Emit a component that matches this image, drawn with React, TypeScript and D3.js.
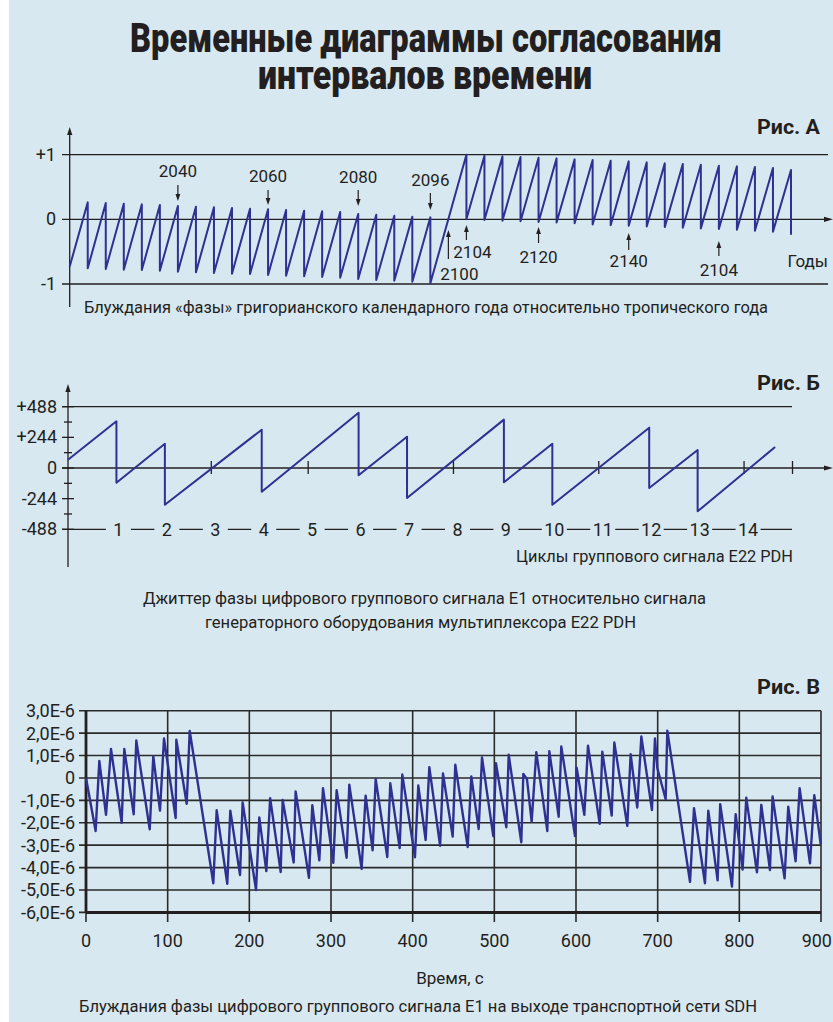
import React from "react";
import * as d3 from "d3";

const W = 833;
const H = 1022;
const BG = "#d8e8f1";
const INK = "#231f20";
const BLUE = "#2e3192";
const FONT = "Roboto, 'Liberation Sans', Arial, sans-serif";

// ---- Рис. А: phase of the Gregorian year vs tropical year ----
const aStartYear = 2016;
const aStartValue = -0.73;
const aLeapYears = [
  2020, 2024, 2028, 2032, 2036, 2040, 2044, 2048, 2052, 2056,
  2060, 2064, 2068, 2072, 2076, 2080, 2084, 2088, 2092, 2096,
  2104, 2108, 2112, 2116, 2120, 2124, 2128, 2132, 2136, 2140,
  2144, 2148, 2152, 2156, 2160, 2164, 2168, 2172, 2176,
];
const aPeaks = [
  0.263, 0.253, 0.242, 0.232, 0.222, 0.206, 0.196, 0.186, 0.175, 0.165,
  0.155, 0.144, 0.134, 0.124, 0.113, 0.082, 0.072, 0.057, 0.041, 0.031,
  1.0, 0.985, 0.974, 0.964, 0.954, 0.943, 0.928, 0.918, 0.907, 0.897,
  0.881, 0.866, 0.856, 0.845, 0.83, 0.82, 0.809, 0.794, 0.763,
];
const aTroughs = [
  -0.758, -0.768, -0.778, -0.784, -0.794, -0.809, -0.82, -0.83, -0.84, -0.845,
  -0.861, -0.871, -0.881, -0.892, -0.902, -0.923, -0.938, -0.948, -0.964, -0.99,
  0, -0.01, -0.02, -0.03, -0.04, -0.05, -0.06, -0.08, -0.09, -0.1,
  -0.11, -0.12, -0.13, -0.14, -0.15, -0.16, -0.175, -0.19, -0.24,
];
const aYTicks = [1, 0, -1];
const aYLabels = ["+1", "0", "-1"];
const aDownYears = [2040, 2060, 2080, 2096];
const aDownLabels = ["2040", "2060", "2080", "2096"];
const aUpYears = [2100, 2104, 2120, 2140, 2160];
const aUpLabels = ["2100", "2104", "2120", "2140", "2104"];

// ---- Рис. Б: jitter of E1 vs E22 ----
const bCycles = [0, 1, 1, 2, 2, 4, 4, 6, 6, 7, 7, 9, 9, 10, 10, 12, 12, 13, 13, 14.6];
const bValues = [66, 372, -117, 193, -292, 305, -189, 440, -58, 249, -239, 385, -114, 193, -292, 321, -159, 143, -345, 167];
const bYTicks = [488, 244, 0, -244, -488];
const bYLabels = ["+488", "+244", "0", "-244", "-488"];
const bMinorTicks = [366, 122, -122, -366];
const bCycleNumbers = [1, 2, 3, 4, 5, 6, 7, 8, 9, 10, 11, 12, 13, 14];
const bZeroTicks = [3, 5, 8, 11, 14, 15];

// ---- Рис. В: phase wander at SDH output ----
const cTimes = [
  0, 11.8, 16.3, 24.5, 30.6, 43.7, 46.9, 58.4, 61.6, 78, 82.4, 90.6, 95.5, 109.8, 110.6, 123.3, 127,
  155.9, 160, 173, 176.7, 188.6, 191.8, 208.2, 212.2, 220.8, 225.5, 238.4, 240.8, 254.3, 256.7, 273, 277.1,
  285.7, 290.2, 302.8, 306.9, 319.1, 322.4, 337.5, 342.4, 351, 354.7, 368.9, 372.6, 384.1, 387.3, 402.8, 406.9,
  415.9, 420.4, 433.6, 437.1, 449, 452.2, 467.4, 471.8, 480.8, 484.9, 498.7, 502, 514.7, 517.6, 533, 535.5,
  540, 545.7, 551.4, 564.9, 567.3, 578.8, 582, 598.8, 600.8, 610.2, 614.7, 629, 632.2, 643.7, 646.9, 662.8,
  666.9, 675, 680, 693, 696.7, 699.6, 709.8, 711.8, 739.6, 744.5, 757.9, 762, 773.4, 776.6, 791, 795.5,
  804, 808.5, 821.6, 826.9, 837.5, 840.7, 855.4, 859.9, 868.9, 873.8, 886.5, 891.8, 899.6,
];
const cValues = [
  0, -2.37, 0.76, -1.65, 1.29, -2.0, 1.29, -1.62, 1.67, -2.29, 0.97, -1.46, 1.76, -1.79, 1.71, -1.15, 2.1,
  -4.7, -1.44, -4.72, -1.46, -4.33, -1.09, -5.0, -1.76, -4.16, -0.9, -4.2, -0.98, -3.77, -0.6, -4.46, -1.22,
  -3.68, -0.46, -3.79, -0.55, -3.56, -0.3, -4.06, -0.79, -3.23, -0.04, -3.53, -0.24, -3.13, 0.15, -3.54, -0.34,
  -2.77, 0.48, -3.03, 0.2, -2.62, 0.59, -3.08, 0.07, -2.28, 0.91, -2.6, 0.66, -2.2, 1.04, -2.87, 0.18,
  -0.06, -1.96, 1.15, -2.37, 1.19, -1.73, 1.4, -2.59, 0.46, -1.65, 1.44, -2.05, 1.17, -1.68, 1.58, -2.14,
  1.06, -1.32, 1.85, -1.43, 1.76, 0.43, -0.95, 2.11, -4.64, -1.35, -4.7, -1.46, -4.57, -1.17, -4.85, -1.62,
  -4.09, -0.88, -4.21, -1.2, -4.11, -0.83, -4.48, -1.28, -3.72, -0.46, -3.81, -0.77, -2.95,
];
const cXTicks = [0, 100, 200, 300, 400, 500, 600, 700, 800, 900];
const cYTicks = [3, 2, 1, 0, -1, -2, -3, -4, -5, -6];
const cYLabels = ["3,0E-6", "2,0E-6", "1,0E-6", "0", "-1,0E-6", "-2,0E-6", "-3,0E-6", "-4,0E-6", "-5,0E-6", "-6,0E-6"];

type P = [number, number];

function head(x: number, tip: number, dir: number, w = 2.6, l = 8) {
  // dir = 1: pointing down, -1: pointing up
  return `M${x},${tip} L${x - w},${tip - dir * l} L${x + w},${tip - dir * l} Z`;
}
function headRight(x: number, y: number, w = 2.6, l = 9) {
  return `M${x},${y} L${x - l},${y - w} L${x - l},${y + w} Z`;
}

export default function App() {
  // layout A
  const xA = d3.scaleLinear().domain([2016, 2176]).range([69.7, 791]);
  const yA = d3.scaleLinear().domain([-1, 1]).range([284, 154.7]);
  const aPts: P[] = [[aStartYear, aStartValue]];
  aLeapYears.forEach((yr, i) => {
    aPts.push([yr, aPeaks[i]]);
    aPts.push([yr, aTroughs[i]]);
  });
  const lineA = d3.line<P>().x((d) => xA(d[0])).y((d) => yA(d[1]));
  const downLayout = [
    { ly: 177, a1: 185, a2: 201 },
    { ly: 182, a1: 190, a2: 205 },
    { ly: 183, a1: 190, a2: 206 },
    { ly: 186, a1: 193, a2: 210 },
  ];
  const upLayout = [
    { ly: 280, dx: 11, a1: 259, a2: 230 },
    { ly: 258, dx: 6, a1: 240, a2: 225 },
    { ly: 263, dx: 0, a1: 243, a2: 227 },
    { ly: 267, dx: 0, a1: 250, a2: 233 },
    { ly: 276, dx: 0, a1: 256, a2: 241 },
  ];

  // layout B
  const xB = d3.scaleLinear().domain([0, 15]).range([68, 794.5]);
  const yB = d3.scaleLinear().domain([-488, 488]).range([529.3, 406.7]);
  const bPts: P[] = bCycles.map((c, i) => [c, bValues[i]]);
  const lineB = d3.line<P>().x((d) => xB(d[0])).y((d) => yB(d[1]));

  // layout C
  const xC = d3.scaleLinear().domain([0, 900]).range([86, 821]);
  const yC = d3.scaleLinear().domain([-6, 3]).range([912.4, 710.7]);
  const cPts: P[] = cTimes.map((t, i) => [t, cValues[i]]);
  const lineC = d3.line<P>().x((d) => xC(d[0])).y((d) => yC(d[1]));

  const txt = { fontFamily: FONT, fill: INK } as const;

  return (
    <svg
      width={W}
      height={H}
      viewBox={`0 0 ${W} ${H}`}
      style={{ position: "absolute", left: 0, top: 0 }}
    >
      <rect x={0} y={0} width={W} height={H} fill="#ffffff" />
      <rect x={9} y={0} width={W - 9} height={H} fill={BG} />

      {/* Title */}
      <text x={426} y={52} textAnchor="middle" fontSize={40} fontWeight={900} textLength={592} lengthAdjust="spacingAndGlyphs" {...txt}>
        Временные диаграммы согласования
      </text>
      <text x={425} y={89} textAnchor="middle" fontSize={40} fontWeight={900} textLength={334} lengthAdjust="spacingAndGlyphs" {...txt}>
        интервалов времени
      </text>

      {/* ===== Рис. А ===== */}
      <text x={820} y={134} textAnchor="end" fontSize={20} fontWeight={700} textLength={63} lengthAdjust="spacingAndGlyphs" {...txt}>
        Рис. А
      </text>
      <g stroke={INK} strokeWidth={1.3}>
        <line x1={xA(2016)} x2={xA(2016)} y1={134} y2={307} />
        <line x1={62} x2={828} y1={yA(1)} y2={yA(1)} />
        <line x1={62} x2={826} y1={yA(0)} y2={yA(0)} />
        <line x1={62} x2={828} y1={yA(-1)} y2={yA(-1)} />
      </g>
      <path d={head(xA(2016), 127, -1)} fill={INK} />
      <path d={headRight(833, yA(0))} fill={INK} />
      {aYTicks.map((v, i) => (
        <text key={v} x={56} y={yA(v) + 6} textAnchor="end" fontSize={18} {...txt}>
          {aYLabels[i]}
        </text>
      ))}
      <path d={lineA(aPts) || ""} fill="none" stroke={BLUE} strokeWidth={2} strokeLinejoin="round" />
      {aDownYears.map((yr, i) => {
        const L = downLayout[i];
        const x = xA(yr);
        return (
          <g key={yr}>
            <text x={x} y={L.ly} textAnchor="middle" fontSize={17} {...txt}>
              {aDownLabels[i]}
            </text>
            <line x1={x} x2={x} y1={L.a1} y2={L.a2 - 5} stroke={INK} strokeWidth={1.2} />
            <path d={head(x, L.a2, 1, 2.4, 7)} fill={INK} />
          </g>
        );
      })}
      {aUpYears.map((yr, i) => {
        const L = upLayout[i];
        const x = xA(yr);
        return (
          <g key={yr}>
            <text x={x + L.dx} y={L.ly} textAnchor="middle" fontSize={17} {...txt}>
              {aUpLabels[i]}
            </text>
            <line x1={x} x2={x} y1={L.a1} y2={L.a2 + 5} stroke={INK} strokeWidth={1.2} />
            <path d={head(x, L.a2, -1, 2.4, 7)} fill={INK} />
          </g>
        );
      })}
      <text x={828} y={267} textAnchor="end" fontSize={17} {...txt}>
        Годы
      </text>
      <text x={84} y={313} fontSize={17} textLength={684} lengthAdjust="spacingAndGlyphs" {...txt}>
        Блуждания «фазы» григорианского календарного года относительно тропического года
      </text>

      {/* ===== Рис. Б ===== */}
      <text x={820} y={390} textAnchor="end" fontSize={20} fontWeight={700} textLength={63} lengthAdjust="spacingAndGlyphs" {...txt}>
        Рис. Б
      </text>
      <g stroke={INK} strokeWidth={1.3}>
        <line x1={xB(0)} x2={xB(0)} y1={391} y2={567} />
        <line x1={62} x2={792} y1={yB(488)} y2={yB(488)} />
        <line x1={62} x2={826} y1={yB(0)} y2={yB(0)} />
        <line x1={62} x2={792} y1={yB(-488)} y2={yB(-488)} />
        {bYTicks.map((v) => (
          <line key={v} x1={62} x2={74} y1={yB(v)} y2={yB(v)} />
        ))}
        {bMinorTicks.map((v) => (
          <line key={v} x1={64} x2={72} y1={yB(v)} y2={yB(v)} />
        ))}
        {bZeroTicks.map((c) => (
          <line key={c} x1={xB(c) - 2} x2={xB(c) - 2} y1={yB(0) - 7} y2={yB(0) + 6} />
        ))}
      </g>
      <path d={head(xB(0), 384, -1)} fill={INK} />
      <path d={headRight(833, yB(0))} fill={INK} />
      {bYTicks.map((v, i) => (
        <text key={v} x={57} y={yB(v) + 6} textAnchor="end" fontSize={18} {...txt}>
          {bYLabels[i]}
        </text>
      ))}
      <path d={lineB(bPts) || ""} fill="none" stroke={BLUE} strokeWidth={2} strokeLinejoin="round" />
      {bCycleNumbers.map((n) => (
        <g key={n}>
          <rect x={xB(n) + 2 - 12.5} y={yB(-488) - 4} width={25} height={8} fill={BG} />
          <text x={xB(n) + 2} y={yB(-488) + 7} textAnchor="middle" fontSize={18} {...txt}>
            {n}
          </text>
        </g>
      ))}
      <text x={793} y={562} textAnchor="end" fontSize={17} textLength={277} lengthAdjust="spacingAndGlyphs" {...txt}>
        Циклы группового сигнала E22 PDH
      </text>
      <text x={424.5} y={604} textAnchor="middle" fontSize={17} textLength={563} lengthAdjust="spacingAndGlyphs" {...txt}>
        Джиттер фазы цифрового группового сигнала E1 относительно  сигнала
      </text>
      <text x={420.5} y={628} textAnchor="middle" fontSize={17} textLength={431} lengthAdjust="spacingAndGlyphs" {...txt}>
        генераторного оборудования мультиплексора E22 PDH
      </text>

      {/* ===== Рис. В ===== */}
      <text x={820} y={694} textAnchor="end" fontSize={20} fontWeight={700} textLength={63} lengthAdjust="spacingAndGlyphs" {...txt}>
        Рис. В
      </text>
      <g stroke="#2a2a2a" strokeWidth={1.6}>
        {cYTicks.map((v) => (
          <line key={v} x1={79} x2={xC(900)} y1={yC(v)} y2={yC(v)} />
        ))}
        {cXTicks.map((t) => (
          <line key={t} x1={xC(t)} x2={xC(t)} y1={yC(3)} y2={922} />
        ))}
      </g>
      <line x1={xC(0)} x2={xC(0)} y1={yC(3)} y2={yC(-6)} stroke={INK} strokeWidth={2.8} />
      <line x1={xC(0)} x2={xC(900)} y1={yC(-6)} y2={yC(-6)} stroke={INK} strokeWidth={3} />
      <path d={lineC(cPts) || ""} fill="none" stroke={BLUE} strokeWidth={2.4} strokeLinejoin="round" />
      {cYTicks.map((v, i) => (
        <text key={v} x={75} y={yC(v) + 6.5} textAnchor="end" fontSize={18} {...txt}>
          {cYLabels[i]}
        </text>
      ))}
      {cXTicks.map((t) => (
        <text key={t} x={t === 900 ? 832 : xC(t)} y={947} textAnchor={t === 900 ? "end" : "middle"} fontSize={18} {...txt}>
          {t}
        </text>
      ))}
      <text x={450} y={984} textAnchor="middle" fontSize={17} {...txt}>
        Время, с
      </text>
      <text x={79} y={1012} fontSize={17} textLength={678} lengthAdjust="spacingAndGlyphs" {...txt}>
        Блуждания фазы цифрового группового сигнала E1 на выходе транспортной сети SDH
      </text>
    </svg>
  );
}
